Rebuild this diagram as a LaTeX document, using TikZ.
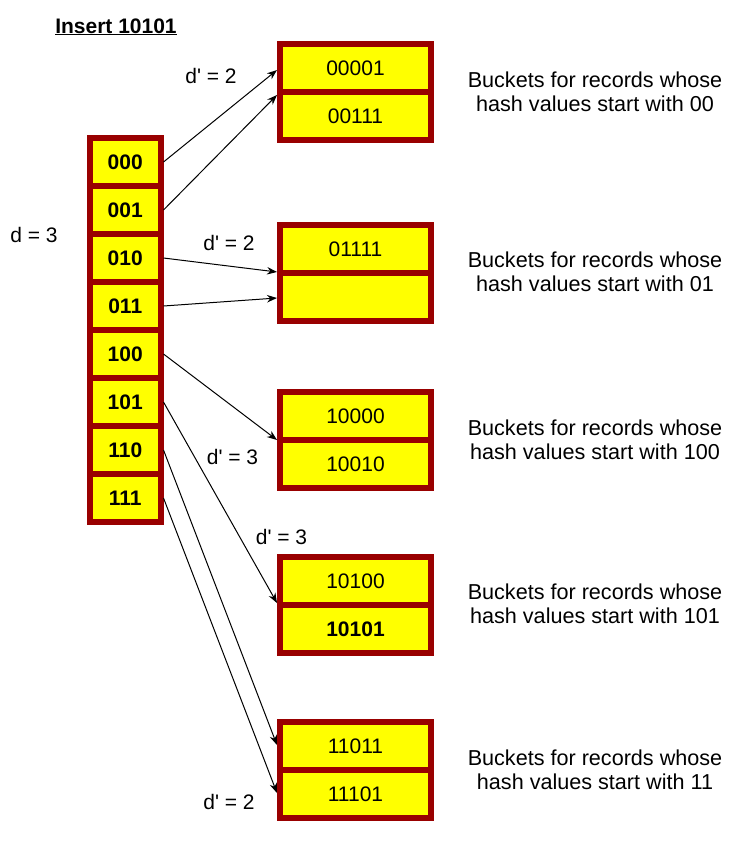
\documentclass[tikz,border=0pt]{standalone}
\usepackage{fontspec}
\setmainfont{Liberation Sans}
\usetikzlibrary{arrows.meta,calc}
\definecolor{dred}{RGB}{153,0,0}
\definecolor{yel}{RGB}{255,255,0}
\begin{document}
\begin{tikzpicture}[x=1pt,y=-1pt,
  cellbox/.style={draw=dred,fill=yel,line width=6pt,inner sep=0pt,
    text height=15pt,text depth=0pt,font=\fontsize{21}{24}\selectfont},
  dircell/.style={cellbox,minimum width=70.5pt,minimum height=48pt,font=\fontsize{21}{24}\selectfont\bfseries},
  bkcell/.style={cellbox,minimum width=151pt,minimum height=48pt},
  lbl/.style={inner sep=0pt,anchor=base,font=\fontsize{21}{24}\selectfont},
  desc/.style={inner sep=0pt,align=center,font=\fontsize{21.6}{24}\selectfont},
  arr/.style={line width=1pt,-{Stealth[length=10pt,width=7.5pt]}}]
\useasboundingbox (0,0) rectangle (744,847);
% title
\node[lbl,font=\fontsize{21}{24}\selectfont\bfseries] (title) at (116,33) {\underline{Insert 10101}};
% directory
\foreach \i/\t in {0/000,1/001,2/010,3/011,4/100,5/101,6/110,7/111}{
  \node[dircell] (d\i) at (125.25,{162+48*\i}) {\t};
}
\node[lbl] (dlab) at (34,242) {d = 3};
% buckets
\node[bkcell] (b1a) at (355.5,68) {00001};
\node[bkcell] (b1b) at (355.5,116) {00111};
\node[bkcell] (b2a) at (355.5,249) {01111};
\node[bkcell] (b2b) at (355.5,297) {};
\node[bkcell] (b3a) at (355.5,416) {10000};
\node[bkcell] (b3b) at (355.5,464) {10010};
\node[bkcell] (b4a) at (355.5,581) {10100};
\node[bkcell,font=\fontsize{21}{24}\selectfont\bfseries] (b4b) at (355.5,629) {10101};
\node[bkcell] (b5a) at (355.5,746) {11011};
\node[bkcell] (b5b) at (355.5,794) {11101};
% local depth labels
\node[lbl] (l1) at (211,83.5) {d\textquotesingle{} = 2};
\node[lbl] (l2) at (229,250.5) {d\textquotesingle{} = 2};
\node[lbl] (l3) at (232.5,464.5) {d\textquotesingle{} = 3};
\node[lbl] (l4) at (281.5,544.5) {d\textquotesingle{} = 3};
\node[lbl] (l5) at (229,809.5) {d\textquotesingle{} = 2};
% descriptions
\node[desc] (t1) at (595,91.5) {Buckets for records whose\\hash values start with 00};
\node[desc] (t2) at (595,272) {Buckets for records whose\\hash values start with 01};
\node[desc] (t3) at (595,439.5) {Buckets for records whose\\hash values start with 100};
\node[desc] (t4) at (595,604) {Buckets for records whose\\hash values start with 101};
\node[desc] (t5) at (595,769.5) {Buckets for records whose\\hash values start with 11};
% pointers
\draw[arr] (d0.east) -- ($(b1a.west)+(0,2)$);
\draw[arr] (d1.east) -- (b1a.south west);
\draw[arr] (d2.east) -- ($(b2a.south west)+(0,-4)$);
\draw[arr] (d3.east) -- ($(b2b.west)+(0,1)$);
\draw[arr] (d4.east) -- ($(b3a.south west)+(0,-3)$);
\draw[arr] (d5.east) -- ($(b4a.south west)+(0,-5)$);
\draw[arr] (d6.east) -- ($(b5a.west)+(0,-1)$);
\draw[arr] (d7.east) -- ($(b5b.west)+(0,-1)$);
\end{tikzpicture}
\end{document}
